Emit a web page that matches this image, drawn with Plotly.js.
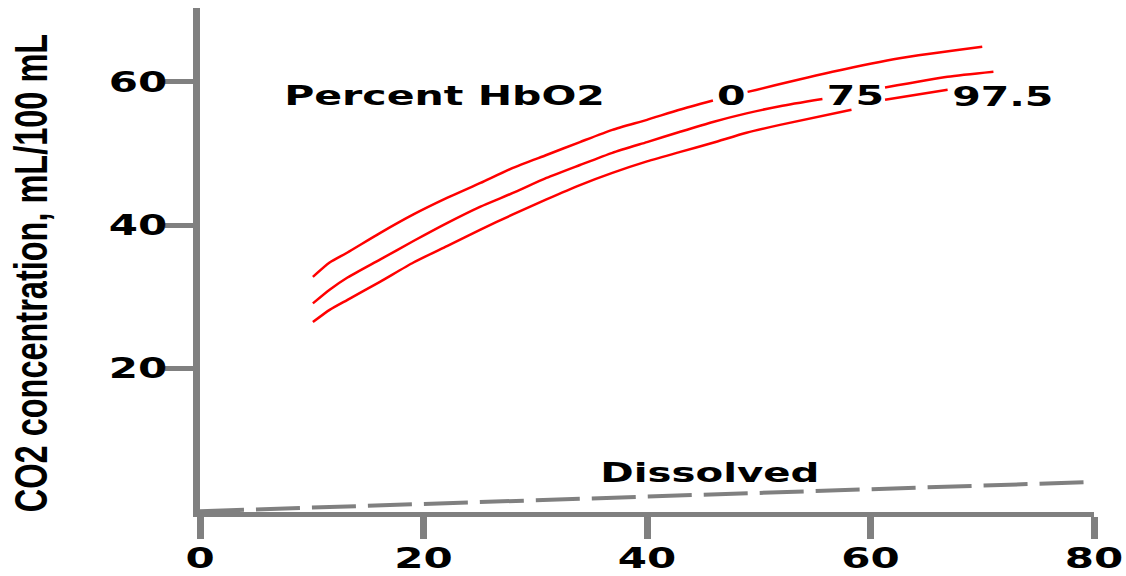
<!DOCTYPE html>
<html><head><meta charset="utf-8">
<script src="https://cdn.plot.ly/plotly-3.0.1.min.js"></script>
<style>
html,body{margin:0;padding:0;background:#fff;}
#chart{width:1126px;height:576px;}
/* the reference lettering is wide: stretch each label horizontally about its own centre */
g.xtick, g.ytick { transform-box: fill-box; transform-origin: center; transform: scaleX(1.5); }
g.annotation { transform-box: fill-box; transform-origin: center; transform: scaleX(1.55); }
g.g-ytitle { transform-box: fill-box; transform-origin: center; transform: translateY(13px) scaleX(1.4); }
</style></head><body><div id="chart"></div>
<script>
// PCO2 (mmHg) vs CO2 content (mL/100 mL); null = gap where a label sits
const hb0X   = [10.1, 11.6, 13.2, 16.1, 19.1, 22.1, 25.1, 28.0, 31.0, 34.0, 36.9, 40.0, 42.9, 45.9, null, 49.0, 56.6, 62.6, 70.0];
const hb0Y   = [32.8, 34.8, 36.2, 38.9, 41.5, 43.8, 45.9, 48.0, 49.8, 51.6, 53.3, 54.7, 56.1, 57.4, null, 58.6, 61.4, 63.3, 64.9];
const hb75X  = [10.1, 11.6, 13.2, 16.1, 19.1, 22.1, 25.1, 28.0, 31.0, 34.0, 36.9, 40.0, 42.9, 45.9, 48.9, 51.9, 55.7, null, 61.3, 66.9, 71.0];
const hb75Y  = [29.1, 31.0, 32.7, 35.2, 37.8, 40.3, 42.6, 44.5, 46.6, 48.4, 50.1, 51.6, 53.0, 54.4, 55.6, 56.6, 57.6, null, 59.2, 60.7, 61.4];
const hb975X = [10.1, 11.6, 13.2, 16.1, 19.1, 22.1, 25.1, 28.0, 31.0, 34.0, 36.9, 40.0, 42.9, 45.9, 48.9, 51.9, 58.3, null, 61.3, 66.9];
const hb975Y = [26.5, 28.2, 29.6, 32.1, 34.8, 37.1, 39.4, 41.5, 43.6, 45.6, 47.3, 48.9, 50.2, 51.5, 52.9, 54.0, 56.1, null, 57.5, 58.9];
const dissX  = [0, 80];
const dissY  = [0.1, 4.2];

const xTicks = [0, 20, 40, 60, 80];
const yTicks = [20, 40, 60];

const labels = [
  {text: 'Percent HbO2', x: 21.9, y: 58.1},
  {text: '0',            x: 47.5, y: 58.1},
  {text: '75',           x: 58.7, y: 58.1},
  {text: '97.5',         x: 71.8, y: 57.9},
  {text: 'Dissolved',    x: 45.6, y: 5.4}
];

const red = '#ff0000';
const gray = '#808080';
const lineStyle = {color: red, width: 2.5, shape: 'spline', smoothing: 0.6};

const traces = [
  {x: hb0X, y: hb0Y, mode: 'lines', line: lineStyle, connectgaps: false, name: '0'},
  {x: hb75X, y: hb75Y, mode: 'lines', line: lineStyle, connectgaps: false, name: '75'},
  {x: hb975X, y: hb975Y, mode: 'lines', line: lineStyle, connectgaps: false, name: '97.5'},
  {x: dissX, y: dissY, mode: 'lines', line: {color: gray, width: 4, dash: '44px,12px'}, name: 'Dissolved'}
];

const labelFont = {family: 'DejaVu Sans', size: 26.5, color: '#000', weight: 'bold'};
const tickFont = {family: 'DejaVu Sans', size: 28, color: '#000', weight: 'bold'};

const layout = {
  width: 1126, height: 576,
  margin: {l: 200, r: 32, t: 8, b: 64, pad: 0},
  paper_bgcolor: '#fff', plot_bgcolor: '#fff',
  showlegend: false,
  xaxis: {
    range: [0, 80], tickvals: xTicks, ticktext: xTicks.map(String),
    showgrid: false, zeroline: false,
    showline: true, linecolor: gray, linewidth: 5,
    ticks: 'outside', ticklen: 22, tickwidth: 7, tickcolor: gray,
    ticklabelstandoff: -5,
    tickfont: tickFont,
    fixedrange: true
  },
  yaxis: {
    range: [0, 70.3], tickvals: yTicks, ticktext: yTicks.map(String),
    showgrid: false, zeroline: false,
    showline: true, linecolor: gray, linewidth: 7,
    ticks: 'outside', ticklen: 28, tickwidth: 5, tickcolor: gray,
    ticklabelstandoff: 2,
    tickfont: tickFont,
    title: {text: 'CO2 concentration, mL/100 mL', standoff: 58,
            font: {family: 'Liberation Sans', size: 32.5, color: '#000', weight: 'bold'}},
    fixedrange: true
  },
  annotations: labels.map(l => ({
    text: l.text, x: l.x, y: l.y, xref: 'x', yref: 'y',
    showarrow: false, xanchor: 'center', yanchor: 'middle',
    font: l.text === 'Dissolved' ? Object.assign({}, labelFont, {size: 26}) : labelFont
  }))
};

Plotly.newPlot('chart', traces, layout, {displayModeBar: false, staticPlot: true});
</script>
</body></html>
